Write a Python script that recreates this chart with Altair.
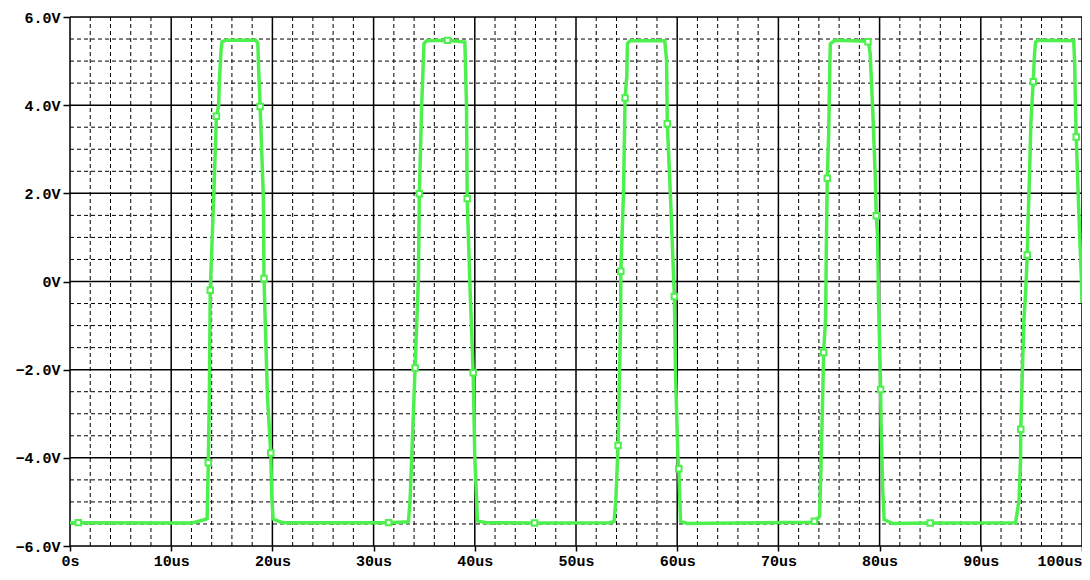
import altair as alt
import pandas as pd

# Waveform samples (time in us, voltage in V)
t_us = [0.0, 11.97, 13.18, 13.55, 13.6, 13.65, 13.77, 13.86, 14.2, 14.36, 14.47, 14.69, 14.75, 14.92, 15.02, 15.41,
        18.36, 18.56, 18.62, 18.79, 18.92, 19.11, 19.17, 19.51, 19.84, 19.93, 20.07, 20.98,
        31.48, 33.44, 33.6, 33.77, 34.1, 34.43, 34.52, 34.75, 34.98, 35.25, 37.31,
        39.02, 39.18, 39.25, 39.51, 39.84, 40.0, 40.26, 41.15,
        45.9, 53.3, 53.77, 53.93, 54.16, 54.26, 54.41, 54.43, 54.69, 54.85, 55.02, 55.08, 55.34,
        58.77, 58.95, 59.02, 59.34, 59.72, 59.84, 60.07, 60.16, 60.33, 61.0,
        73.5, 74.07, 74.23, 74.4, 74.47, 74.67, 74.73, 74.83, 74.97, 75.07, 75.13, 75.57,
        78.9, 79.07, 79.33, 79.57, 79.67, 79.8, 79.9, 80.05, 80.1, 80.15, 80.3, 80.45, 81.3,
        85.0, 93.44, 93.77, 93.93, 93.95, 94.1, 94.26, 94.43, 94.59, 94.66, 94.82, 94.95, 95.18, 95.31, 95.41, 95.64,
        99.18, 99.28, 99.35, 99.43, 99.61, 99.77, 99.93, 100.0]
v_volt = [-5.47, -5.48, -5.41, -5.38, -4.8, -4.3, -2.61, -0.2, 1.9, 3.0, 3.75, 3.99, 4.5, 5.22, 5.44, 5.47,
          5.47, 5.41, 4.96, 3.97, 3.1, 1.9, 0.07, -2.61, -3.89, -4.84, -5.39, -5.47,
          -5.47, -5.45, -4.99, -3.98, -1.96, 0.09, 1.99, 3.99, 5.4, 5.46, 5.47,
          5.43, 3.99, 1.88, -0.03, -2.07, -3.98, -5.43, -5.47,
          -5.48, -5.47, -5.44, -4.99, -3.72, -2.52, -0.88, 0.23, 1.98, 4.16, 4.65, 5.4, 5.46,
          5.46, 5.03, 3.58, 1.9, -0.34, -2.15, -3.98, -4.25, -5.44, -5.49,
          -5.46, -5.33, -4.0, -2.38, -1.61, -0.8, 0.67, 2.34, 3.38, 4.78, 5.39, 5.47,
          5.45, 5.16, 3.85, 2.38, 1.49, 1.06, -0.49, -1.88, -2.45, -3.27, -4.67, -5.4, -5.49,
          -5.48, -5.47, -4.98, -4.05, -3.35, -2.11, -0.87, -0.26, 0.6, 1.29, 2.45, 3.61, 4.53, 5.16, 5.43, 5.47,
          5.46, 4.93, 4.0, 3.28, 2.07, 1.06, 0.13, -0.49]

# Marker positions
marker_t = [0.82, 13.66, 13.86, 14.47, 18.79, 19.17, 19.84,
            31.48, 34.1, 34.52, 37.31, 39.25, 39.84,
            45.9, 54.16, 54.43, 54.85, 59.02, 59.72, 60.16,
            73.55, 74.47, 74.83, 78.85, 79.67, 80.1,
            85.0, 93.95, 94.59, 95.18, 99.43]
marker_v = [-5.47, -4.11, -0.2, 3.75, 3.97, 0.07, -3.89,
            -5.47, -1.96, 1.99, 5.47, 1.88, -2.07,
            -5.48, -3.72, 0.23, 4.16, 3.58, -0.34, -4.25,
            -5.44, -1.61, 2.34, 5.44, 1.49, -2.45,
            -5.48, -3.35, 0.6, 4.53, 3.28]

x_major = list(range(0, 101, 10))
x_minor = [x for x in range(0, 101, 2) if x % 10 != 0]
y_major = [-6, -4, -2, 0, 2, 4, 6]
y_minor = [k * 0.5 for k in range(-12, 13) if k % 4 != 0]

GREEN = "#4DF04D"
FONT = "Liberation Mono"

wave = pd.DataFrame({"i": list(range(len(t_us))), "t": t_us, "v": v_volt})
marks = pd.DataFrame({"t": marker_t, "v": marker_v})
xs = alt.Scale(domain=[0, 100], nice=False, zero=False)
ys = alt.Scale(domain=[-6, 6], nice=False, zero=False)

x_axis = alt.Axis(
    values=x_major, title=None, grid=False, domain=False,
    tickSize=5, tickColor="black", tickWidth=1.5,
    labelExpr="datum.value == 0 ? '0s' : datum.value + 'us'",
    labelFont=FONT, labelFontSize=15, labelFontWeight="bold", labelColor="black",
    labelPadding=2, labelOverlap=False,
    labelAlign=alt.ConditionalAxisLabelAlign(
        condition={"test": "datum.value >= 100", "value": "right"}, value="center"),
)
y_axis = alt.Axis(
    values=y_major, title=None, grid=False, domain=False,
    tickSize=7, tickColor="black", tickWidth=1.5,
    labelExpr="datum.value == 0 ? '0V' : format(datum.value, '.1f') + 'V'",
    labelFont=FONT, labelFontSize=15, labelFontWeight="bold", labelColor="black",
    labelPadding=3, labelOverlap=False,
)

vminor = alt.Chart(pd.DataFrame({"t": x_minor})).mark_rule(
    color="black", strokeWidth=1, strokeDash=[4, 3]
).encode(x=alt.X("t:Q", scale=xs, axis=x_axis))
hminor = alt.Chart(pd.DataFrame({"v": y_minor})).mark_rule(
    color="black", strokeWidth=1, strokeDash=[4, 3]
).encode(y=alt.Y("v:Q", scale=ys, axis=y_axis))
vmajor = alt.Chart(pd.DataFrame({"t": x_major})).mark_rule(
    color="black", strokeWidth=1.5
).encode(x=alt.X("t:Q", scale=xs, title=None))
hmajor = alt.Chart(pd.DataFrame({"v": y_major})).mark_rule(
    color="black", strokeWidth=1.5
).encode(y=alt.Y("v:Q", scale=ys, title=None))

line = alt.Chart(wave).mark_line(color=GREEN, strokeWidth=3.5, strokeJoin="miter").encode(
    x=alt.X("t:Q", scale=xs, title=None),
    y=alt.Y("v:Q", scale=ys, title=None),
    order="i:Q",
)

points = alt.Chart(marks).mark_point(
    shape="square", filled=True, fill="white", stroke=GREEN, strokeWidth=2, size=30, opacity=1
).encode(x=alt.X("t:Q", scale=xs, title=None), y=alt.Y("v:Q", scale=ys, title=None))

chart = alt.layer(vminor, hminor, vmajor, hmajor, line, points).properties(
    width=1012, height=529,
    autosize=alt.AutoSizeParams(type="none"),
    padding={"left": 62, "top": 9, "right": 0, "bottom": 26},
).configure_view(stroke=None).configure(background="white")

chart.save("out.html", embed_options={"renderer": "svg", "actions": False})
